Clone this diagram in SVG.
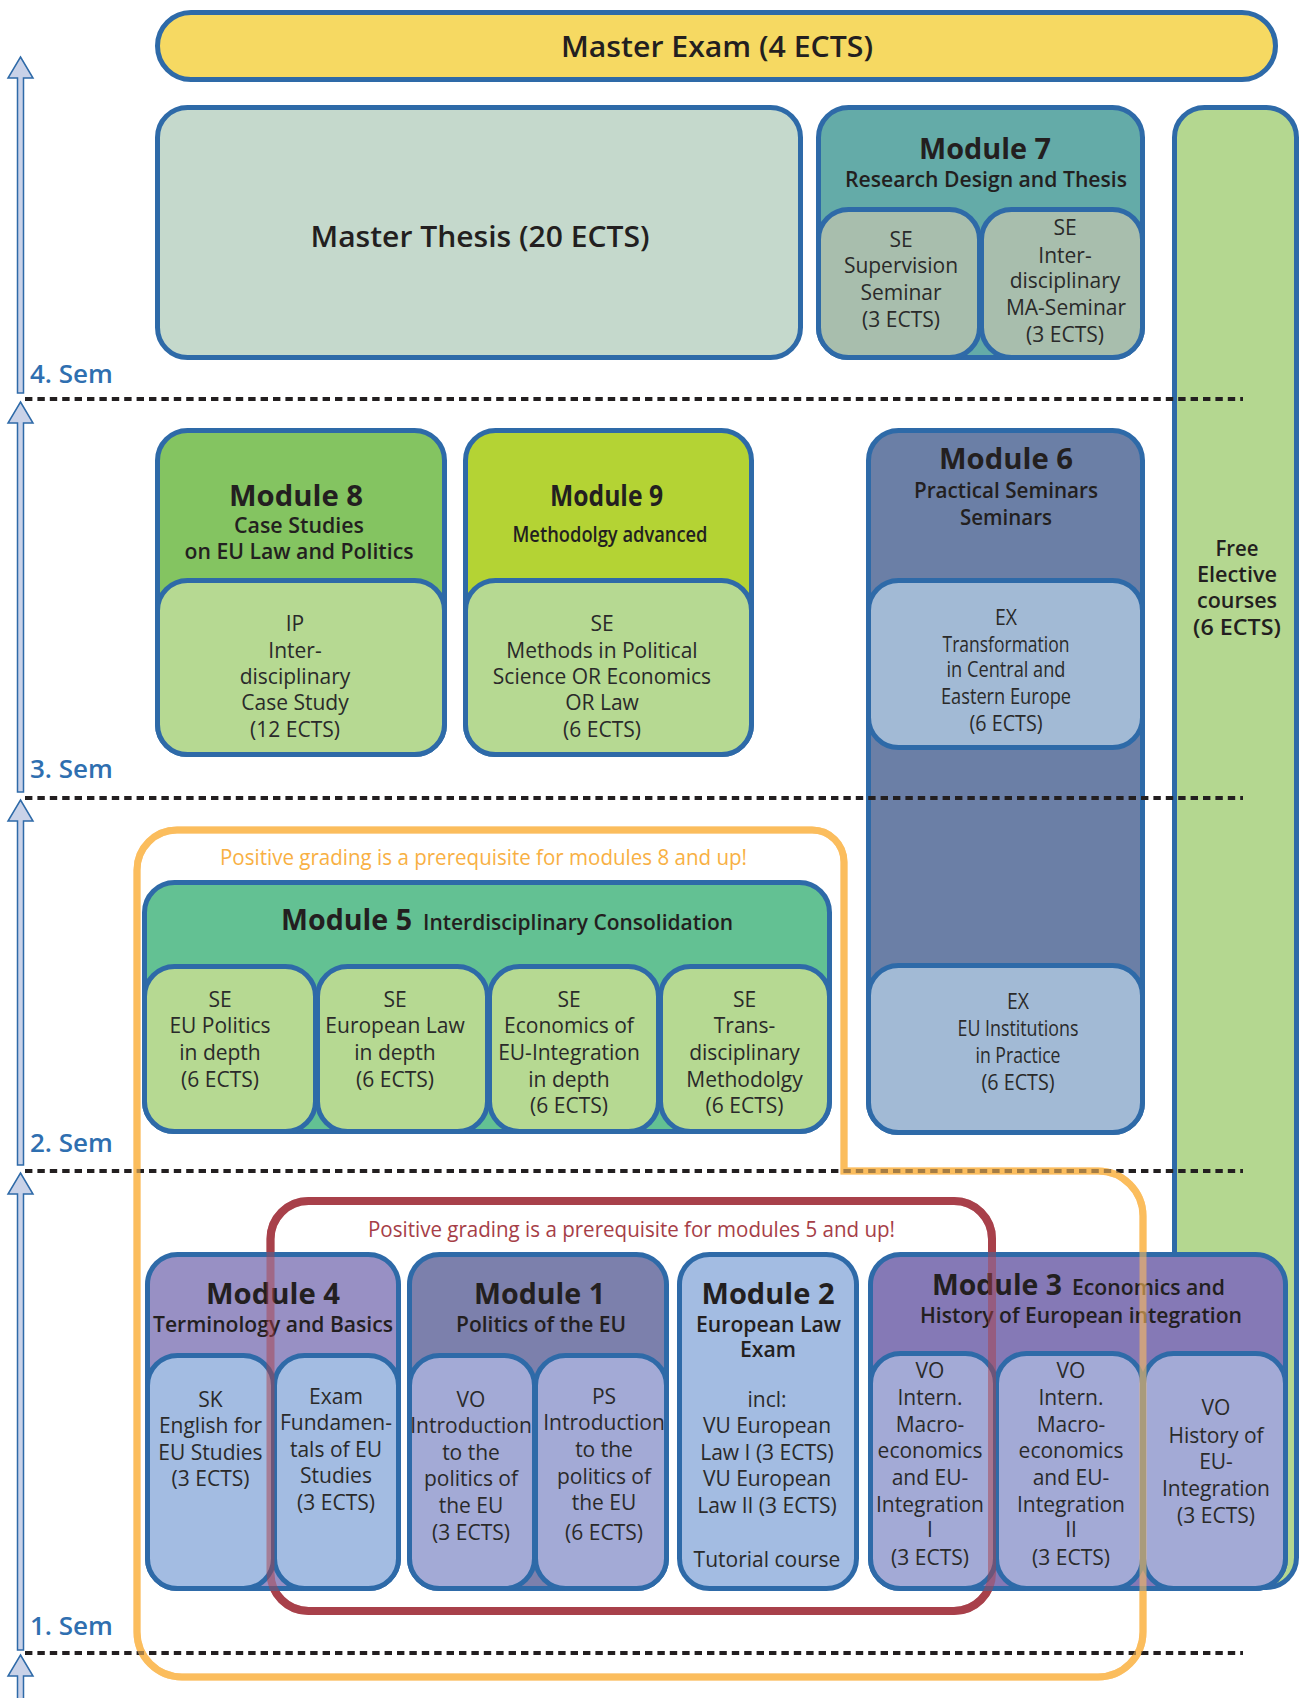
<svg xmlns="http://www.w3.org/2000/svg" width="1300" height="1698" viewBox="0 0 1300 1698">
<style>
.b{stroke:#2e6aa8;stroke-width:5}
text{font-family:"Open Sans","Liberation Sans",sans-serif;fill:#231f20;text-anchor:middle}
.h{font-size:29px;font-weight:700}
.s{font-size:21px;font-weight:600}
.t{font-size:21px;font-weight:400;fill:#2a2a2a}
.sem{font-size:26px;font-weight:600;fill:#2f6fb0;text-anchor:start}
.dash{stroke:#231f20;stroke-width:4;stroke-dasharray:7.4 5;fill:none}
.arr{fill:#c9d2e8;stroke:#2e6aa8;stroke-width:1.5}
</style>
<rect width="1300" height="1698" fill="#ffffff"/>

<g id="timeline">
<polygon class="arr" points="20.5,57 33,78 23.5,78 23.5,393 17.5,393 17.5,78 8,78"/>
<polygon class="arr" points="20.5,402 33,423 23.5,423 23.5,792 17.5,792 17.5,423 8,423"/>
<polygon class="arr" points="20.5,800 33,821 23.5,821 23.5,1165 17.5,1165 17.5,821 8,821"/>
<polygon class="arr" points="20.5,1173 33,1194 23.5,1194 23.5,1650 17.5,1650 17.5,1194 8,1194"/>
<polygon class="arr" points="20.5,1655 33,1676 23.5,1676 23.5,1702 17.5,1702 17.5,1676 8,1676"/>
<text class="sem" x="30" y="383">4. Sem</text>
<text class="sem" x="30" y="778">3. Sem</text>
<text class="sem" x="30" y="1152">2. Sem</text>
<text class="sem" x="30" y="1635">1. Sem</text>
</g>

<g id="prereq8-frame">
<path d="M137,870 A40,40 0 0 1 177,830 L812,830 A32,32 0 0 1 844,862 L844,1171 L1098,1171 A45,45 0 0 1 1143,1216 L1143,1632 A45,45 0 0 1 1098,1677 L182,1677 A45,45 0 0 1 137,1632 Z" fill="none" stroke="#fbbd5e" stroke-width="7"/>
</g>
<g id="prereq5-frame">
<rect x="270.5" y="1201" width="721.5" height="410" rx="38" fill="none" stroke="#a8404a" stroke-width="8"/>
</g>

<g id="free-elective">
<rect class="b" x="1174.5" y="107.5" width="122" height="1480" rx="30" fill="#b4d790"/>
<text class="s" x="1237" y="556" font-size="20" textLength="43" lengthAdjust="spacingAndGlyphs">Free</text>
<text class="s" x="1237" y="582" font-size="20" textLength="80" lengthAdjust="spacingAndGlyphs">Elective</text>
<text class="s" x="1237" y="608" font-size="20" textLength="80" lengthAdjust="spacingAndGlyphs">courses</text>
<text class="s" x="1237" y="635" font-size="20" textLength="88" lengthAdjust="spacingAndGlyphs">(6 ECTS)</text>
</g>

<g id="master-exam">
<rect class="b" x="157.5" y="12.5" width="1118" height="67" rx="33.5" fill="#f6d962"/>
<text x="717" y="57" font-size="29" font-weight="600" textLength="312" lengthAdjust="spacingAndGlyphs">Master Exam (4 ECTS)</text>
</g>

<g id="master-thesis">
<rect class="b" x="157.5" y="107.5" width="643" height="250" rx="30" fill="#c5d9cc"/>
<text x="480" y="247" font-size="28" font-weight="600" textLength="339" lengthAdjust="spacingAndGlyphs">Master Thesis (20 ECTS)</text>
</g>

<g id="module7">
<rect class="b" x="818.5" y="107.5" width="324" height="250" rx="30" fill="#64aba8"/>
<text class="h" x="985" y="159" textLength="132" lengthAdjust="spacingAndGlyphs">Module 7</text>
<text class="s" x="986" y="187" textLength="282" lengthAdjust="spacingAndGlyphs">Research Design and Thesis</text>
<rect class="b" x="818.5" y="209.5" width="161" height="148" rx="30" fill="#a8bead"/>
<rect class="b" x="981.5" y="209.5" width="161" height="148" rx="30" fill="#a8bead"/>
<text class="t" x="901" y="247">SE</text>
<text class="t" x="901" y="273">Supervision</text>
<text class="t" x="901" y="300">Seminar</text>
<text class="t" x="901" y="327">(3 ECTS)</text>
<text class="t" x="1065" y="235">SE</text>
<text class="t" x="1065" y="263">Inter-</text>
<text class="t" x="1065" y="288">disciplinary</text>
<text class="t" x="1066" y="315">MA-Seminar</text>
<text class="t" x="1065" y="342">(3 ECTS)</text>
</g>

<g id="module8">
<rect class="b" x="157.5" y="430.5" width="287" height="324" rx="30" fill="#84c461"/>
<text class="h" x="296" y="506" textLength="134" lengthAdjust="spacingAndGlyphs">Module 8</text>
<text class="s" x="299" y="533" font-size="22" textLength="130" lengthAdjust="spacingAndGlyphs">Case Studies</text>
<text class="s" x="299" y="559" font-size="22" textLength="229" lengthAdjust="spacingAndGlyphs">on EU Law and Politics</text>
<rect class="b" x="157.5" y="580.5" width="287" height="174" rx="30" fill="#b6d992"/>
<text class="t" x="295" y="631">IP</text>
<text class="t" x="295" y="658">Inter-</text>
<text class="t" x="295" y="684">disciplinary</text>
<text class="t" x="295" y="710">Case Study</text>
<text class="t" x="295" y="737">(12 ECTS)</text>
</g>

<g id="module9">
<rect class="b" x="465.5" y="430.5" width="286" height="324" rx="30" fill="#b4d334"/>
<text class="h" x="606.5" y="506" textLength="113" lengthAdjust="spacingAndGlyphs">Module 9</text>
<text class="s" x="610" y="542" textLength="195" lengthAdjust="spacingAndGlyphs">Methodolgy advanced</text>
<rect class="b" x="465.5" y="580.5" width="286" height="174" rx="30" fill="#b6d992"/>
<text class="t" x="602" y="631">SE</text>
<text class="t" x="602" y="658">Methods in Political</text>
<text class="t" x="602" y="684">Science OR Economics</text>
<text class="t" x="602" y="710">OR Law</text>
<text class="t" x="602" y="737">(6 ECTS)</text>
</g>

<g id="module6">
<rect class="b" x="868.5" y="430.5" width="274" height="702" rx="30" fill="#6b7fa6"/>
<text class="h" x="1006" y="469" font-size="28" textLength="134" lengthAdjust="spacingAndGlyphs">Module 6</text>
<text class="s" x="1006" y="498" textLength="184" lengthAdjust="spacingAndGlyphs">Practical Seminars</text>
<text class="s" x="1006" y="525" textLength="92" lengthAdjust="spacingAndGlyphs">Seminars</text>
<rect class="b" x="868.5" y="580.5" width="274" height="167" rx="30" fill="#a2bad5"/>
<text class="t" x="1006" y="625" textLength="22" lengthAdjust="spacingAndGlyphs">EX</text>
<text class="t" x="1006" y="652" textLength="127" lengthAdjust="spacingAndGlyphs">Transformation</text>
<text class="t" x="1006" y="677" textLength="119" lengthAdjust="spacingAndGlyphs">in Central and</text>
<text class="t" x="1006" y="704" textLength="130" lengthAdjust="spacingAndGlyphs">Eastern Europe</text>
<text class="t" x="1006" y="731" textLength="73" lengthAdjust="spacingAndGlyphs">(6 ECTS)</text>
<rect class="b" x="868.5" y="965.5" width="274" height="167" rx="30" fill="#a2bad5"/>
<text class="t" x="1018" y="1009" textLength="22" lengthAdjust="spacingAndGlyphs">EX</text>
<text class="t" x="1018" y="1036" textLength="121" lengthAdjust="spacingAndGlyphs">EU Institutions</text>
<text class="t" x="1018" y="1063" textLength="85" lengthAdjust="spacingAndGlyphs">in Practice</text>
<text class="t" x="1018" y="1090" textLength="73" lengthAdjust="spacingAndGlyphs">(6 ECTS)</text>
</g>

<g id="module5">
<rect class="b" x="144.5" y="882.5" width="685" height="249" rx="30" fill="#63c193"/>
<text class="h" x="281" y="930" font-size="28" style="text-anchor:start" textLength="131" lengthAdjust="spacingAndGlyphs">Module 5</text>
<text class="s" x="423" y="930" style="text-anchor:start" textLength="310" lengthAdjust="spacingAndGlyphs">Interdisciplinary Consolidation</text>
<rect class="b" x="144.5" y="966.5" width="171" height="165" rx="30" fill="#b6d992"/>
<rect class="b" x="317.5" y="966.5" width="170" height="165" rx="30" fill="#b6d992"/>
<rect class="b" x="489.5" y="966.5" width="169" height="165" rx="30" fill="#b6d992"/>
<rect class="b" x="660.5" y="966.5" width="169" height="165" rx="30" fill="#b6d992"/>
<text class="t" x="220" y="1007">SE</text>
<text class="t" x="220" y="1033">EU Politics</text>
<text class="t" x="220" y="1060">in depth</text>
<text class="t" x="220" y="1087">(6 ECTS)</text>
<text class="t" x="395" y="1007">SE</text>
<text class="t" x="395" y="1033">European Law</text>
<text class="t" x="395" y="1060">in depth</text>
<text class="t" x="395" y="1087">(6 ECTS)</text>
<text class="t" x="569" y="1007">SE</text>
<text class="t" x="569" y="1033">Economics of</text>
<text class="t" x="569" y="1060">EU-Integration</text>
<text class="t" x="569" y="1087">in depth</text>
<text class="t" x="569" y="1113">(6 ECTS)</text>
<text class="t" x="744.5" y="1007">SE</text>
<text class="t" x="744.5" y="1033">Trans-</text>
<text class="t" x="744.5" y="1060">disciplinary</text>
<text class="t" x="744.5" y="1087">Methodolgy</text>
<text class="t" x="744.5" y="1113">(6 ECTS)</text>
</g>

<g id="module4">
<rect class="b" x="147.5" y="1254.5" width="251" height="334" rx="30" fill="#9890c4"/>
<text class="h" x="273" y="1304" textLength="134" lengthAdjust="spacingAndGlyphs">Module 4</text>
<text class="s" x="273" y="1332" textLength="240" lengthAdjust="spacingAndGlyphs">Terminology and Basics</text>
<rect class="b" x="147.5" y="1355.5" width="126" height="233" rx="30" fill="#a3bce2"/>
<rect class="b" x="274.5" y="1355.5" width="124" height="233" rx="30" fill="#a3bce2"/>
<text class="t" x="210.5" y="1407">SK</text>
<text class="t" x="210.5" y="1433">English for</text>
<text class="t" x="210.5" y="1460">EU Studies</text>
<text class="t" x="210.5" y="1486">(3 ECTS)</text>
<text class="t" x="336" y="1404">Exam</text>
<text class="t" x="336" y="1430">Fundamen-</text>
<text class="t" x="336" y="1457">tals of EU</text>
<text class="t" x="336" y="1483">Studies</text>
<text class="t" x="336" y="1510">(3 ECTS)</text>
</g>

<g id="module1">
<rect class="b" x="409.5" y="1254.5" width="257" height="334" rx="30" fill="#7c80ac"/>
<text class="h" x="539.5" y="1304" textLength="131" lengthAdjust="spacingAndGlyphs">Module 1</text>
<text class="s" x="541" y="1332" textLength="170" lengthAdjust="spacingAndGlyphs">Politics of the EU</text>
<rect class="b" x="409.5" y="1355.5" width="125" height="233" rx="30" fill="#a3aad6"/>
<rect class="b" x="535.5" y="1355.5" width="131" height="233" rx="30" fill="#a3aad6"/>
<text class="t" x="471" y="1407">VO</text>
<text class="t" x="471" y="1433">Introduction</text>
<text class="t" x="471" y="1460">to the</text>
<text class="t" x="471" y="1486">politics of</text>
<text class="t" x="471" y="1513">the EU</text>
<text class="t" x="471" y="1540">(3 ECTS)</text>
<text class="t" x="604" y="1404">PS</text>
<text class="t" x="604" y="1430">Introduction</text>
<text class="t" x="604" y="1457">to the</text>
<text class="t" x="604" y="1484">politics of</text>
<text class="t" x="604" y="1510">the EU</text>
<text class="t" x="604" y="1540" font-size="23">(6 ECTS)</text>
</g>

<g id="module2">
<rect class="b" x="679.5" y="1254.5" width="177" height="334" rx="30" fill="#a3bce2"/>
<text class="h" x="768" y="1304" textLength="133" lengthAdjust="spacingAndGlyphs">Module 2</text>
<text class="s" x="768.5" y="1332" textLength="145" lengthAdjust="spacingAndGlyphs">European Law</text>
<text class="s" x="768" y="1357" textLength="56" lengthAdjust="spacingAndGlyphs">Exam</text>
<text class="t" x="767" y="1407">incl:</text>
<text class="t" x="767" y="1433">VU European</text>
<text class="t" x="767" y="1460">Law I (3 ECTS)</text>
<text class="t" x="767" y="1486">VU European</text>
<text class="t" x="767" y="1513">Law II (3 ECTS)</text>
<text class="t" x="767" y="1567">Tutorial course</text>
</g>

<g id="module3">
<rect class="b" x="870.5" y="1254.5" width="415" height="334" rx="30" fill="#8579b6"/>
<text class="h" x="932" y="1295" style="text-anchor:start" textLength="130" lengthAdjust="spacingAndGlyphs">Module 3</text>
<text class="s" x="1072" y="1295" font-size="22" style="text-anchor:start" textLength="153" lengthAdjust="spacingAndGlyphs">Economics and</text>
<text class="s" x="1081" y="1323" font-size="22" textLength="322" lengthAdjust="spacingAndGlyphs">History of European integration</text>
<rect class="b" x="870.5" y="1353.5" width="125" height="235" rx="30" fill="#a3aad6"/>
<rect class="b" x="996.5" y="1353.5" width="146" height="235" rx="30" fill="#a3aad6"/>
<rect class="b" x="1143.5" y="1353.5" width="142" height="235" rx="30" fill="#a3aad6"/>
<text class="t" x="930" y="1378">VO</text>
<text class="t" x="930" y="1405">Intern.</text>
<text class="t" x="930" y="1432">Macro-</text>
<text class="t" x="930" y="1458">economics</text>
<text class="t" x="930" y="1485">and EU-</text>
<text class="t" x="930" y="1512">Integration</text>
<text class="t" x="930" y="1537">I</text>
<text class="t" x="930" y="1565">(3 ECTS)</text>
<text class="t" x="1071" y="1378">VO</text>
<text class="t" x="1071" y="1405">Intern.</text>
<text class="t" x="1071" y="1432">Macro-</text>
<text class="t" x="1071" y="1458">economics</text>
<text class="t" x="1071" y="1485">and EU-</text>
<text class="t" x="1071" y="1512">Integration</text>
<text class="t" x="1071" y="1537">II</text>
<text class="t" x="1071" y="1565">(3 ECTS)</text>
<text class="t" x="1216" y="1415">VO</text>
<text class="t" x="1216" y="1443">History of</text>
<text class="t" x="1216" y="1469">EU-</text>
<text class="t" x="1216" y="1496">Integration</text>
<text class="t" x="1216" y="1523">(3 ECTS)</text>
</g>

<g id="semester-dividers">
<line class="dash" x1="25" y1="399" x2="1243" y2="399"/>
<line class="dash" x1="25" y1="798" x2="1243" y2="798"/>
<line class="dash" x1="25" y1="1171" x2="1243" y2="1171"/>
<line class="dash" x1="25" y1="1653" x2="1243" y2="1653"/>
</g>

<g id="prereq-overlays" fill="none">
<path d="M137,870 A40,40 0 0 1 177,830 L812,830 A32,32 0 0 1 844,862 L844,1171 L1098,1171 A45,45 0 0 1 1143,1216 L1143,1632 A45,45 0 0 1 1098,1677 L182,1677 A45,45 0 0 1 137,1632 Z" stroke="#fbbd5e" stroke-width="7" stroke-opacity="0.6"/>
<rect x="270.5" y="1201" width="721.5" height="410" rx="38" stroke="#a8404a" stroke-width="8" stroke-opacity="0.5"/>
</g>

<g id="prereq-labels">
<text x="483.5" y="865" font-size="22" font-weight="500" style="fill:#f8b043" textLength="527" lengthAdjust="spacingAndGlyphs">Positive grading is a prerequisite for modules 8 and up!</text>
<text x="631.5" y="1237" font-size="22" font-weight="500" style="fill:#a63e47" textLength="527" lengthAdjust="spacingAndGlyphs">Positive grading is a prerequisite for modules 5 and up!</text>
</g>
</svg>
